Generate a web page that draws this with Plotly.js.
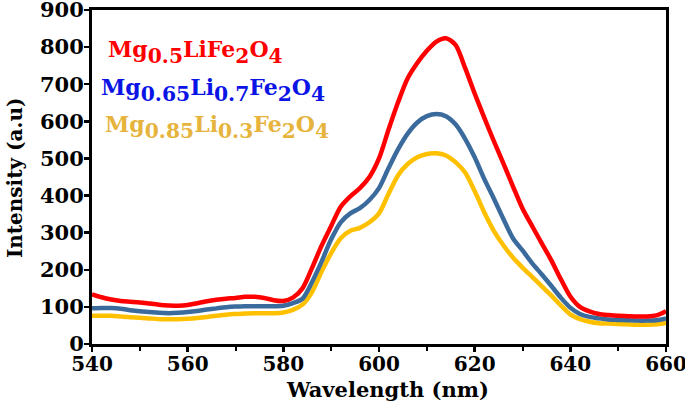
<!DOCTYPE html>
<html>
<head>
<meta charset="utf-8">
<script src="https://cdn.plot.ly/plotly-3.0.1.min.js"></script>
<style>html,body{margin:0;padding:0;background:#fff;}#chart{width:685px;height:404px;}</style>
</head>
<body>
<div id="chart"></div>
<script>
const wavelength = [540,542,544,546,548,550,552,554,556,558,560,562,564,566,568,570,572,574,576,578,580,582,584,586,588,590,592,594,596,598,600,602,604,606,608,610,612,614,616,618,620,622,624,626,628,630,632,634,636,638,640,642,644,646,648,650,652,654,656,658,660];

const mg05 = [134,126,120,116,114,112,109,106,104,103,105,110,115,119,122,124,127,127,124,118,116,125,150,205,265,318,370,398,420,450,500,578,652,716,757,790,815,824,806,744,675,610,547,487,425,365,318,272,226,175,128,100,88,81,78,76,75,74,74,77,88];

const mg065 = [96,97,97,95,91,88,86,84,83,84,86,89,93,96,99,101,102,102,102,102,103,110,122,167,222,282,328,352,366,388,420,474,525,567,597,614,620,614,592,553,503,445,392,337,285,252,218,188,157,125,98,81,73,69,66,65,64,63,63,64,69];

const mg085 = [76,76,76,74,72,71,69,67,67,67,68,70,73,76,79,81,82,83,83,83,85,92,106,140,195,245,285,305,313,328,352,405,455,485,503,512,514,508,490,462,412,355,305,266,233,206,181,156,131,104,80,67,60,56,55,54,53,52,52,53,57];

// formula pieces: [text, isSub]
const seriesLabels = [
  [["Mg",0],["0.5",1],["LiFe",0],["2",1],["O",0],["4",1]],
  [["Mg",0],["0.65",1],["Li",0],["0.7",1],["Fe",0],["2",1],["O",0],["4",1]],
  [["Mg",0],["0.85",1],["Li",0],["0.3",1],["Fe",0],["2",1],["O",0],["4",1]]
];
const xTicks = [540,560,580,600,620,640,660];
const yTicks = [0,100,200,300,400,500,600,700,800,900];
const xTitle = "Wavelength (nm)";
const yTitle = "Intensity (a.u)";

const lineColors = ["#FF0000", "#3A6B9C", "#FFC000"];
const labelColors = ["#FF0000", "#0A14E6", "#E6B43C"];

const traces = [mg05, mg065, mg085].map((ys, i) => ({
  x: wavelength, y: ys, type: 'scatter', mode: 'lines',
  line: {color: lineColors[i], width: 4.5, shape: 'spline', smoothing: 0.8},
  showlegend: false, hoverinfo: 'skip'
}));
const ordered = [traces[2], traces[1], traces[0]];

const font = "DejaVu Serif";
function buildLabel(parts) {
  return '<b>' + parts.map(p => p[1] ? '<sub>' + p[0] + '</sub>' : '<span style="font-size:22px">' + p[0] + '</span>').join('') + '</b>';
}
const labelPos = [[542.9, 787], [541.4, 684], [542.4, 584]];
const annotations = seriesLabels.map((parts, i) => ({
  text: buildLabel(parts), x: labelPos[i][0], y: labelPos[i][1], xref: 'x', yref: 'y',
  xanchor: 'left', yanchor: 'middle', showarrow: false,
  font: {family: font, size: 29, color: labelColors[i]}
}));
annotations.push({
  text: '<b>' + xTitle + '</b>', xref: 'paper', yref: 'paper', x: 0.515, y: -0.135,
  xanchor: 'center', yanchor: 'middle', showarrow: false,
  font: {family: font, size: 21, color: '#000'}
});
annotations.push({
  text: '<b>' + yTitle + '</b>', xref: 'paper', yref: 'paper', x: -0.134, y: 0.497,
  xanchor: 'center', yanchor: 'middle', showarrow: false, textangle: -90,
  font: {family: font, size: 20, color: '#000'}
});

const layout = {
  width: 685, height: 404,
  margin: {l: 92, r: 19, t: 10, b: 60},
  paper_bgcolor: '#fff', plot_bgcolor: '#fff',
  xaxis: {
    range: [540, 660], tickvals: xTicks, ticktext: xTicks.map(String),
    ticks: 'outside', ticklen: 5, tickwidth: 2.5, tickcolor: '#000',
    minor: {tickvals: [550,570,590,610,630,650], ticks: 'outside', ticklen: 4, tickwidth: 2, tickcolor: '#000', showgrid: false},
    showline: true, linewidth: 3, linecolor: '#000', mirror: true,
    showgrid: false, zeroline: false, ticklabeloverflow: 'allow', ticklabelstandoff: -5,
    tickfont: {family: font, size: 20, color: '#000', weight: 'bold'}
  },
  yaxis: {
    range: [0, 900], tickvals: yTicks, ticktext: yTicks.map(String),
    ticks: 'outside', ticklen: 5, tickwidth: 2.5, tickcolor: '#000',
    showline: true, linewidth: 3, linecolor: '#000', mirror: true,
    showgrid: false, zeroline: false, ticklabeloverflow: 'allow', ticklabelstandoff: -4,
    tickfont: {family: font, size: 21, color: '#000', weight: 'bold'}
  },
  annotations: annotations
};

Plotly.newPlot('chart', ordered, layout, {staticPlot: true, displayModeBar: false});
</script>
</body>
</html>
